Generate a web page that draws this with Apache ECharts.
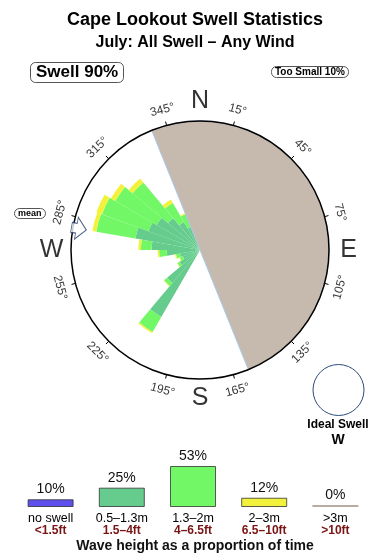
<!DOCTYPE html>
<html><head><meta charset="utf-8">
<script src="https://cdn.jsdelivr.net/npm/echarts@6/dist/echarts.min.js"></script>
<style>html,body{margin:0;padding:0;background:#fff}#c{width:390px;height:560px}</style>
</head><body><div id="c"></div>
<script>
// ---------- data ----------
const dirBins = ['0','10','20','30','40','50','60','70','80','90','100','110','120','130','140','150','160','170',
                 '180','190','200','210','220','230','240','250','260','270','280','290','300','310','320','330','340','350'];
// swell 0.5-1.3m (inner), 1.3-2m (middle), 2-3m (outer) per 10-degree bin
const swellSmall = [0,0,0,0,0,0,0,0,0,0,0,0,0,0,0,0,0,0,0,0,0, 7.2,4.0,2.2,1.7,1.9,3.1,4.5,6.1,5.1,4.65,3.9,3.0,2.3, 0,0];
const swellMid   = [0,0,0,0,0,0,0,0,0,0,0,0,0,0,0,0,0,0,0,0,0, 1.6,0.37,0.23,0.28,0.37,0.7,1.0,3.7,4.6,4.45,4.3,2.05,1.3, 0,0];
const swellBig   = [0,0,0,0,0,0,0,0,0,0,0,0,0,0,0,0,0,0,0,0,0, 0.14,0.05,0.05,0.09,0.09,0.14,0.23,0.37,0.56,0.47,0.47,0.37,0.09, 0,0];
const tickDegrees = [15,45,75,105,135,165,195,225,255,285,315,345];
const compassPoints = ['N','E','S','W'];
const compassDegrees = [0,90,180,270];
const coastBearing = 338;
const landSpan = 180;
const meanDirection = 280;
const legendCats = ['no swell','0.5–1.3m','1.3–2m','2–3m','>3m'];
const legendFeet = ['<1.5ft','1.5–4ft','4–6.5ft','6.5–10ft','>10ft'];
const legendPct = [10,25,53,12,0];

// ---------- style ----------
const FF = '"Liberation Sans", Arial, Helvetica, sans-serif';
const C = {blue:'#5f50ee', dark:'#66cc8e', light:'#72f866', yellow:'#f2f23c', grey:'#b8aca2', land:'#c6baae'};
const legendColors = [C.blue, C.dark, C.light, C.yellow, C.grey];
const CX = 200, CY = 250, R = 129;

function labelRot(a){ if (a < 90) return -a; if (a > 270) return 360 - a; return 180 - a; }

const chart = echarts.init(document.getElementById('c'));
const boxText = (text, left, top, size, pad) => ({
  text, left, top, padding: pad, borderColor:'#555', borderWidth:1, borderRadius:5,
  textStyle:{fontSize:size, fontWeight:'bold', color:'#000', fontFamily:FF}
});

const option = {
  animation:false,
  textStyle:{fontFamily:FF},
  title:[
    {text:'Cape Lookout Swell Statistics', left:'center', top:11, padding:0,
     textStyle:{fontSize:18, fontWeight:'bold', color:'#000', fontFamily:FF}},
    {text:'July: All Swell – Any Wind', left:'center', top:35, padding:0,
     textStyle:{fontSize:16, fontWeight:'bold', color:'#000', fontFamily:FF}},
    boxText('Swell 90%', 30, 62, 17, [2,6]),
    boxText('Too Small 10%', 271, 66, 10, [1,4]),
    boxText('mean', 14, 208, 9, [1,4])
  ],
  graphic:[
    {type:'circle', shape:{cx:338.5, cy:390, r:25.5}, style:{fill:'#fff', stroke:'#2c4a7a', lineWidth:1}},
    {type:'text', x:338, y:425, style:{text:'Ideal Swell', font:'bold 12px '+FF, fill:'#000', textAlign:'center', textVerticalAlign:'middle'}},
    {type:'text', x:338, y:440, style:{text:'W', font:'bold 14px '+FF, fill:'#000', textAlign:'center', textVerticalAlign:'middle'}},
    {type:'text', x:195, y:546, style:{text:'Wave height as a proportion of time', font:'bold 14px '+FF, fill:'#111', textAlign:'center', textVerticalAlign:'middle'}}
  ],
  polar:[
    {center:[CX,CY], radius:R},
    {center:[CX,CY], radius:R},
    {center:[CX,CY], radius:160}
  ],
  angleAxis:[
    {polarIndex:0, type:'category', data:dirBins, startAngle:90, clockwise:true,
     axisLine:{show:false}, axisTick:{show:false}, axisLabel:{show:false}, splitLine:{show:false}},
    {polarIndex:1, type:'value', min:0, max:360, interval:30, startAngle:90 - tickDegrees[0], clockwise:true, z:10,
     axisLine:{lineStyle:{color:'#000', width:1.5}}, axisTick:{length:4, lineStyle:{color:'#000', width:1}},
     axisLabel:{show:false}, splitLine:{show:false}},
    {polarIndex:2, type:'value', min:0, max:360, startAngle:90, clockwise:true, show:false}
  ],
  radiusAxis:[
    {polarIndex:0, type:'value', min:0, max:12, show:false},
    {polarIndex:1, type:'value', min:0, max:1, show:false},
    {polarIndex:2, type:'value', min:0, max:160, show:false}
  ],
  grid:{left:15, right:19, top:460.6, bottom:53},
  xAxis:{type:'category', data:legendCats, axisLine:{show:false}, axisTick:{show:false},
    axisLabel:{margin:6, interval:0, formatter:(v,i)=>'{a|'+v+'}\n{b|'+legendFeet[i]+'}',
      rich:{a:{fontSize:12.5, color:'#000', lineHeight:12, fontFamily:FF},
            b:{fontSize:12, color:'#7a1414', fontWeight:'bold', lineHeight:12, fontFamily:FF}}}},
  yAxis:{type:'value', min:0, max:60, show:false, splitLine:{show:false}},
  series:[
    {type:'bar', coordinateSystem:'polar', polarIndex:0, stack:'h', data:swellSmall, barCategoryGap:'0%',
     itemStyle:{color:C.dark}, silent:true},
    {type:'bar', coordinateSystem:'polar', polarIndex:0, stack:'h', data:swellMid, barCategoryGap:'0%',
     itemStyle:{color:C.light}, silent:true},
    {type:'bar', coordinateSystem:'polar', polarIndex:0, stack:'h', data:swellBig, barCategoryGap:'0%',
     itemStyle:{color:C.yellow}, silent:true},
    {type:'pie', center:[CX,CY], radius:[0,R], z:3, silent:true, clockwise:true,
     startAngle:((90 - coastBearing) % 360 + 360) % 360,
     label:{show:false}, labelLine:{show:false},
     data:[{value:landSpan, itemStyle:{color:C.land, borderColor:'#a9c9ea', borderWidth:1}},
           {value:360 - landSpan, itemStyle:{color:'rgba(0,0,0,0)', borderWidth:0}}]},
    {type:'scatter', coordinateSystem:'polar', polarIndex:2, silent:true, z:12,
     symbolSize:1, itemStyle:{color:'rgba(0,0,0,0)'},
     data:tickDegrees.map(a=>({value:[145, a], label:{rotate:labelRot(a)}})),
     label:{show:true, position:'inside', formatter:p=>p.value[1]+'°', fontSize:12, color:'#000', fontFamily:FF}},
    {type:'scatter', coordinateSystem:'polar', polarIndex:2, silent:true, z:12,
     symbolSize:1, itemStyle:{color:'rgba(0,0,0,0)'},
     data:compassDegrees.map((a,i)=>({value:[148.5, a], name:compassPoints[i]})),
     label:{show:true, position:'inside', formatter:p=>p.name, fontSize:25, color:'#000', fontFamily:FF}},
    {type:'scatter', coordinateSystem:'polar', polarIndex:2, silent:true, z:12,
     data:[[123, meanDirection]],
     symbol:'path://M11,0 L22,10 L16,10 L16,15 L6,15 L6,10 L0,10 Z', symbolSize:[22,15],
     symbolRotate:180 - meanDirection,
     itemStyle:{color:'#fff', borderColor:'#233a6a', borderWidth:1}},
    {type:'bar', data:legendPct.map((v,i)=>({value:v, itemStyle:{color:legendColors[i],
        borderColor: v>0 ? 'rgba(40,40,40,0.75)' : 'rgba(0,0,0,0)', borderWidth: v>0 ? 1 : 0}})),
     barWidth:46, barMinHeight:2, silent:true,
     label:{show:true, position:'top', distance:3, formatter:'{c}%', fontSize:14, color:'#111', fontFamily:FF}}
  ]
};
chart.setOption(option);
</script>
</body></html>
